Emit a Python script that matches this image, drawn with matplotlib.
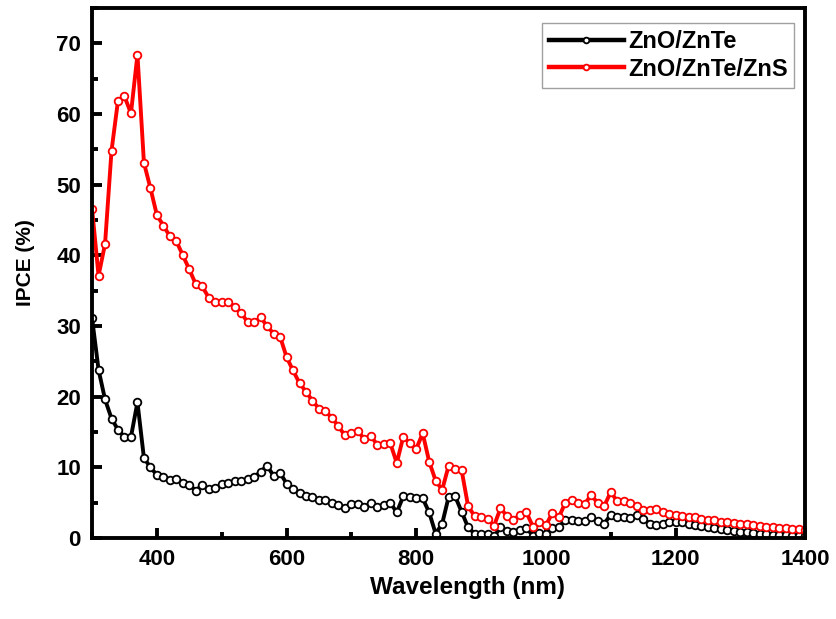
import numpy as np
import matplotlib
matplotlib.use("Agg")
import matplotlib.pyplot as plt
from matplotlib.ticker import MultipleLocator

# wavelength grid, 10 nm steps
wavelength = np.arange(300, 1401, 10)

# IPCE (%) for ZnO/ZnTe
ipce_zno_znte = [
    31.1, 23.8, 19.6, 16.9, 15.3, 14.3, 14.3, 19.2, 11.3, 10.0,
    8.9, 8.6, 8.2, 8.4, 7.8, 7.5, 6.7, 7.5, 6.9, 7.0,
    7.6, 7.8, 8.0, 8.1, 8.3, 8.6, 9.4, 10.2, 8.8, 9.2,
    7.7, 6.9, 6.3, 5.9, 5.8, 5.3, 5.4, 5.0, 4.7, 4.3,
    4.8, 4.8, 4.4, 4.9, 4.4, 4.7, 5.0, 3.6, 5.9, 5.8,
    5.6, 5.6, 3.6, 0.6, 2.0, 5.8, 5.9, 3.7, 1.5, 0.6,
    0.6, 0.6, 0.2, 1.5, 1.0, 0.9, 1.1, 1.4, 0.3, 0.7,
    0.6, 1.4, 1.5, 2.6, 2.5, 2.4, 2.4, 2.9, 2.4, 2.0,
    3.3, 3.0, 2.9, 2.8, 3.3, 2.7, 2.0, 1.8, 2.0, 2.3,
    2.3, 2.2, 2.0, 1.8, 1.7, 1.5, 1.4, 1.2, 1.1, 1.0,
    0.9, 0.8, 0.7, 0.6, 0.5, 0.45, 0.4, 0.35, 0.3, 0.25,
    0.2,
]

# IPCE (%) for ZnO/ZnTe/ZnS
ipce_zno_znte_zns = [
    46.6, 37.1, 41.6, 54.8, 61.9, 62.5, 60.1, 68.4, 53.1, 49.5,
    45.7, 44.2, 42.7, 42.0, 40.0, 38.0, 35.9, 35.6, 34.0, 33.4,
    33.4, 33.4, 32.7, 31.9, 30.5, 30.5, 31.2, 30.0, 28.9, 28.5,
    25.6, 23.7, 21.9, 20.7, 19.4, 18.3, 17.9, 17.0, 15.8, 14.5,
    14.9, 15.1, 14.0, 14.4, 13.2, 13.3, 13.4, 10.6, 14.3, 13.4,
    12.6, 14.8, 10.8, 8.1, 6.8, 10.2, 9.7, 9.6, 4.5, 3.1,
    2.9, 2.7, 1.7, 4.2, 3.1, 2.5, 3.3, 3.6, 1.6, 2.2,
    1.8, 3.5, 2.9, 5.0, 5.4, 5.0, 4.8, 6.1, 4.9, 4.5,
    6.5, 5.2, 5.2, 4.9, 4.5, 3.9, 4.0, 4.1, 3.7, 3.4,
    3.3, 3.1, 3.0, 2.9, 2.7, 2.6, 2.5, 2.3, 2.3, 2.1,
    2.0, 1.9, 1.8, 1.7, 1.6, 1.5, 1.4, 1.35, 1.3, 1.2,
    1.1,
]

plt.rcParams['font.family'] = ['Liberation Sans', 'DejaVu Sans']
plt.rcParams['font.weight'] = 'bold'

fig = plt.figure(figsize=(8.37, 6.19), dpi=100)
ax = fig.add_axes([0.110, 0.131, 0.852, 0.856])

style = dict(lw=2.8, marker='o', ms=5.5, mfc='white', mew=1.3)
ax.plot(wavelength, ipce_zno_znte, color='black', mec='black',
        label='ZnO/ZnTe', **style)
ax.plot(wavelength, ipce_zno_znte_zns, color='#ff0000', mec='#ff0000',
        label='ZnO/ZnTe/ZnS', **style)

ax.set_xlim(300, 1400)
ax.set_ylim(0, 75)
ax.xaxis.set_major_locator(MultipleLocator(200))
ax.xaxis.set_minor_locator(MultipleLocator(100))
ax.yaxis.set_major_locator(MultipleLocator(10))
ax.yaxis.set_minor_locator(MultipleLocator(5))
ax.set_xticks([400, 600, 800, 1000, 1200, 1400])

ax.tick_params(which='both', direction='in', width=2.8, top=False, right=False)
ax.tick_params(which='major', length=7.5, labelsize=16, pad=8)
ax.tick_params(which='minor', length=4)
for lab in ax.get_xticklabels() + ax.get_yticklabels():
    lab.set_fontweight('bold')
for sp in ax.spines.values():
    sp.set_linewidth(2.8)

ax.set_xlabel('Wavelength (nm)', fontsize=17.5, fontweight='bold')
ax.xaxis.set_label_coords(0.527, -0.072)
ax.set_ylabel('IPCE (%)', fontsize=15, fontweight='bold')
ax.yaxis.set_label_coords(-0.080, 0.52)

leg = ax.legend(loc='upper right', fontsize=17, markerscale=0.75,
                fancybox=False, edgecolor='#888888', borderpad=0.3,
                handlelength=3.2, handletextpad=0.15, labelspacing=0.2,
                borderaxespad=0, bbox_to_anchor=(0.985, 0.972))
leg.get_frame().set_linewidth(1.0)
for line in leg.get_lines():
    line.set_linewidth(3.2)
for txt in leg.get_texts():
    txt.set_fontweight('bold')

fig.savefig('out.png', dpi=100)
